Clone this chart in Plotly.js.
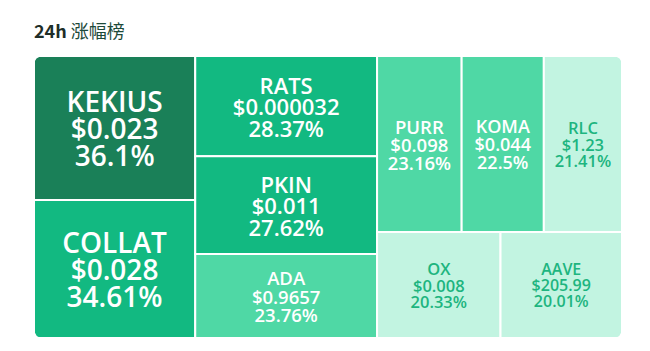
<!DOCTYPE html>
<html>
<head>
<meta charset="utf-8">
<script src="https://cdn.plot.ly/plotly-3.0.1.min.js"></script>
<style>html,body{margin:0;padding:0;background:#fff;}#chart{width:650px;height:351px;}</style>
</head>
<body>
<div id="chart"></div>
<script>
// ---- data ----
const symbols = ["KEKIUS", "COLLAT", "RATS", "PKIN", "ADA", "PURR", "KOMA", "RLC", "OX", "AAVE"];
const prices  = ["0.023", "0.028", "0.000032", "0.011", "0.9657", "0.098", "0.044", "1.23", "0.008", "205.99"];
const changes = [36.1, 34.61, 28.37, 27.62, 23.76, 23.16, 22.5, 21.41, 20.33, 20.01];

// ---- styles ----
const glyphSizes = [28, 28, 22, 22, 18.5, 18.5, 18, 16.5, 16.5, 16];
function tileColor(c) {
  if (c >= 35) return "#1a8058";
  if (c >= 25) return "#12b981";
  if (c >= 22) return "#4fd8a5";
  return "#c2f4e1";
}
function textColor(c) { return c >= 22 ? "#ffffff" : "#1db57f"; }

const templates = glyphSizes.map(s => {
  const sp = "<span style='font-size:" + s + "px'>";
  return sp + "%{label}</span><br>" + sp + "$%{customdata}</span><br>" + sp + "%{value}%</span>";
});
const baseSizes = glyphSizes.map(s => s * 0.75);

const trace = {
  type: "treemap",
  labels: symbols,
  parents: symbols.map(() => ""),
  values: changes,
  customdata: prices,
  texttemplate: templates,
  textposition: "middle center",
  textfont: { family: "Open Sans, sans-serif", size: baseSizes, color: changes.map(textColor), weight: 600 },
  marker: {
    colors: changes.map(tileColor),
    line: { color: "#ffffff", width: 2 },
    pad: { t: 0, l: 0, r: 0, b: 0 }
  },
  tiling: { packing: "squarify", squarifyratio: 1.618034, pad: 0 },
  pathbar: { visible: false },
  sort: true,
  hoverinfo: "label+value"
};

const R = 10;
function corner(xa, ya, sx, sy) {
  return {
    type: "path", xref: "paper", yref: "paper",
    xsizemode: "pixel", ysizemode: "pixel", xanchor: xa, yanchor: ya,
    path: "M0,0 L0," + (sy * R) + " Q0,0 " + (sx * R) + ",0 Z",
    fillcolor: "#ffffff", line: { width: 0 }, layer: "above"
  };
}

const layout = {
  width: 650, height: 351,
  margin: { l: 34, r: 28, t: 56, b: 13 },
  paper_bgcolor: "#ffffff",
  title: {
    text: "<b>24h</b> <span style='color:#1d4a3a'>涨幅榜</span>",
    font: { family: "Noto Sans CJK SC, Noto Sans, sans-serif", size: 18, color: "#1e2e28" },
    x: 0, xref: "paper", xanchor: "left",
    y: 1 - 32 / 351, yref: "container", yanchor: "middle"
  },
  shapes: [corner(0, 1, 1, -1), corner(1, 1, -1, -1), corner(0, 0, 1, 1), corner(1, 0, -1, 1)],
  showlegend: false
};

Plotly.newPlot("chart", [trace], layout, { displayModeBar: false, staticPlot: true });
</script>
</body>
</html>
